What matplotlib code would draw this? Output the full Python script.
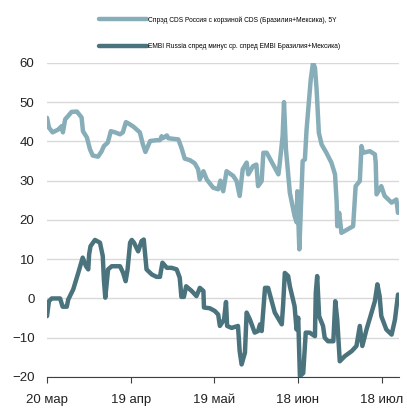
import matplotlib
matplotlib.use("Agg")
import matplotlib.pyplot as plt

plt.rcParams['font.family'] = ['Liberation Sans', 'DejaVu Sans']

# days since 20 March
cds_days = [0, 0.7, 2.0, 4.0, 5.3, 5.7, 6.5, 7.5, 8.8, 10.7, 12.4, 12.9, 14.3, 15.4, 16.4,
            18.3, 19.6, 20.4, 21.8, 22.9, 24.4, 26.2, 27.2, 28.3, 29.1, 30.9, 33.3, 34.4,
            35.3, 37.0, 39.3, 40.5, 41.1, 41.5, 43.0, 43.5, 47.1, 48.2, 49.4, 51.3, 53.0,
            54.2, 54.8, 56.1, 57.3, 59.6, 61.4, 62.2, 63.2, 64.4, 66.8, 68.0, 69.1, 70.2,
            71.6, 72.2, 73.9, 75.1, 75.7, 77.0, 77.6, 78.8, 83.0, 83.5, 84.5, 85.0, 85.7,
            87.1, 88.8, 89.5, 89.8, 90.5, 91.7, 92.5, 93.1, 94.6, 95.4, 96.1, 96.7, 97.5,
            98.5, 100.2, 102.0, 103.3, 103.9, 104.1, 104.8, 105.6, 109.8, 110.7, 112.2,
            112.8, 113.4, 115.8, 117.6, 117.9, 118.2, 119.9, 121.1, 123.6, 125.3, 125.9, 126.2]
cds_vals = [46, 43.5, 42.3, 43, 43.9, 42.3, 45.6, 46.4, 47.5, 47.6, 46.1, 42.6, 41, 38, 36.4,
            36.1, 37.5, 38.8, 39.7, 42.6, 42.3, 41.8, 42.3, 44.9, 44.6, 43.8, 42.3, 39.2,
            37.3, 40.1, 40.3, 40.3, 41.3, 40.8, 41.5, 40.8, 40.5, 38.4, 35.6, 35.2, 34.4,
            32.9, 30.3, 32.4, 30.3, 28.2, 27.8, 30, 27.3, 32.4, 31.2, 29.9, 26.1, 32.9,
            34.6, 31.6, 33.7, 34.1, 28.6, 29.9, 37.1, 37.1, 31.6, 34.6, 41.3, 50, 38,
            26.9, 21, 19.4, 27.3, 12.5, 35, 35.4, 43, 55.8, 60, 58.8, 53.2, 42.2,
            39.2, 37.1, 34.6, 31.6, 24.4, 18.4, 21.8, 16.7, 18.4, 28.6, 29.9,
            38.8, 37.1, 37.5, 36.7, 34.6, 26.5, 28.6, 26.1, 24.4, 25.2, 21.8, 23.5]

embi_days = [0, 0.7, 1.7, 4.7, 5.6, 7.1, 7.6, 9.4, 11.2, 12.8, 14.0, 14.8, 15.1, 15.6, 17.2,
             19.0, 20.0, 20.4, 20.9, 21.9, 23.2, 26.2, 27.3, 28.2, 28.9, 29.8, 30.4, 31.2,
             32.7, 33.9, 34.7, 35.7, 37.6, 39.3, 40.5, 41.4, 43.0, 44.7, 46.5, 47.6, 48.2,
             49.1, 49.9, 51.9, 53.6, 54.6, 54.8, 56.1, 56.3, 58.4, 60.2, 61.4, 62.0, 63.5,
             64.2, 64.6, 66.2, 68.5, 69.1, 69.8, 71.0, 71.6, 72.8, 74.5, 75.7, 76.4, 77.0,
             78.2, 79.3, 81.7, 84.2, 84.7, 85.3, 86.5, 87.1, 88.8, 89.5, 90.1, 90.7, 91.9,
             92.8, 94.2, 96.1, 96.4, 96.9, 97.6, 99.0, 99.6, 100.8, 102.7, 103.4, 104.1,
             105.0, 106.8, 109.3, 111.0, 112.2, 113.1, 114.6, 116.4, 117.6, 118.5, 119.3,
             119.9, 121.7, 123.6, 124.8, 125.9, 126.2]
embi_vals = [-4.5, -0.7, 0, 0, -2.1, -2.1, -0.3, 2.3, 6.5, 10.4, 8.2, 7.4, 11.2, 13.3, 14.9,
             14.2, 10.8, 4.8, 0.2, 7.4, 8.2, 8.2, 6.5, 4.4, 7.4, 14.2, 14.9, 14.2,
             12, 14.6, 15, 7.4, 6.1, 5.5, 5.5, 9.1, 7.8, 7.8, 7.4, 5.3, 0.4,
             0.4, 3.1, 1.9, 0.6, 2.3, 2.7, 1.9, -2.3, -2.5, -3.2, -4.1, -7, -5.4,
             -0.9, -7, -7.5, -7, -13.4, -16.8, -13.8, -3.6, -5.4, -8.7, -8.3, -6.6, -8.3,
             2.7, 2.7, -3.6, -6.6, -1.5, 6.5, 5.7, 3.1, -2, -7.9, -4.9, -19.8, -19,
             -8.7, -8.7, -9.6, 1.4, 5.7, -4.5, -7, -10, -10.9, -10.9, -0.7, -5.4,
             -16, -14.7, -13.4, -12.1, -7, -12.1, -7.9, -3.6, -0.7, 3.6, 0.6,
             -4.5, -7.9, -9.2, -5.4, 1, 0.5]

tick_days = [0, 30, 60, 90, 120]
tick_labels = ['20 мар', '19 апр', '19 май', '18 июн', '18 июл']

label_cds = 'Спрэд CDS Россия с корзиной CDS (Бразилия+Мексика), 5Y'
label_embi = 'EMBI Russia спред минус ср. спред EMBI Бразилия+Мексика)'

fig = plt.figure(figsize=(4.07, 4.08), dpi=100)
ax = fig.add_axes([0.1155, 0.076, 0.8645, 0.77])

l1, = ax.plot(cds_days, cds_vals, color='#87adb8', lw=3.2, solid_joinstyle='round',
              solid_capstyle='round', label=label_cds, zorder=3)
l2, = ax.plot(embi_days, embi_vals, color='#4a737d', lw=3.2, solid_joinstyle='round',
              solid_capstyle='round', label=label_embi, zorder=3)

ax.set_xlim(0, 126.2)
ax.set_ylim(-20, 60)
ax.set_yticks(range(-20, 61, 10))
ax.set_xticks(tick_days)
ax.set_xticklabels(tick_labels)
ax.grid(axis='y', color='#d9d9d9', lw=1)
ax.set_axisbelow(True)
for s in ['top', 'right', 'left']:
    ax.spines[s].set_visible(False)
ax.spines['bottom'].set_color('#404040')
ax.tick_params(axis='y', length=0, labelsize=9.5, pad=9, colors='#222222')
ax.tick_params(axis='x', length=4, direction='out', labelsize=9.5, pad=8,
               colors='#404040', labelcolor='#222222')

fig.legend(handles=[l1, l2], loc='upper left', bbox_to_anchor=(0.228, 0.975),
           frameon=False, fontsize=4.8, handlelength=7.3, handletextpad=0.1,
           labelspacing=2.95)

fig.savefig('out.png', dpi=100)
